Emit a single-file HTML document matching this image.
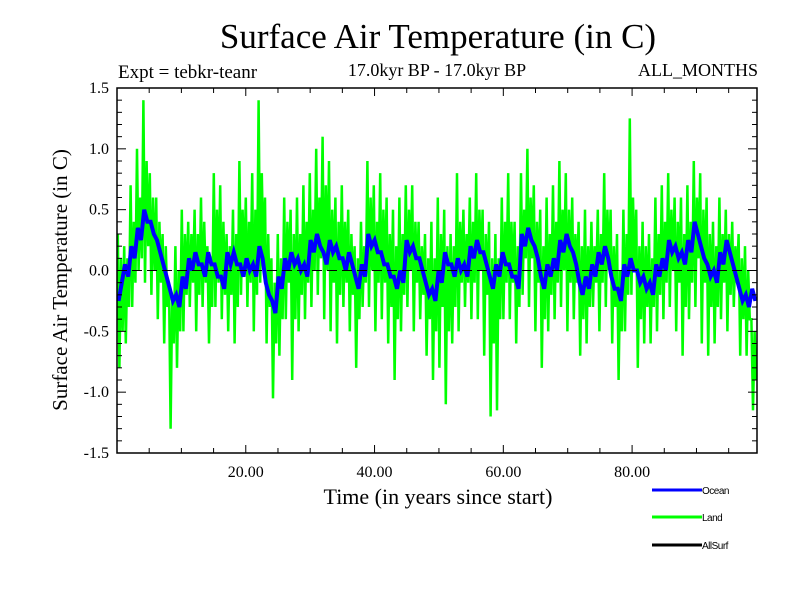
<!DOCTYPE html>
<html><head><meta charset="utf-8"><style>
body{margin:0;background:#fff}
svg text{font-family:"Liberation Serif",serif}
</style></head><body>
<svg width="800" height="600" xmlns="http://www.w3.org/2000/svg">
<rect width="800" height="600" fill="#fff"/>
<text x="438" y="48" font-size="35" text-anchor="middle">Surface Air Temperature (in C)</text>
<text x="118" y="78" font-size="19">Expt = tebkr-teanr</text>
<text x="437" y="76" font-size="18" text-anchor="middle">17.0kyr BP - 17.0kyr BP</text>
<text x="758" y="76" font-size="18" text-anchor="end">ALL_MONTHS</text>
<text transform="translate(67,280) rotate(-90)" font-size="21" text-anchor="middle">Surface Air Temperature (in C)</text>
<text x="438" y="504" font-size="22" text-anchor="middle">Time (in years since start)</text>
<g id="series"></g>
<g id="axes"></g>
<g>
<line x1="652" y1="490" x2="702" y2="490" stroke="#0000ff" stroke-width="3"/>
<text x="702" y="494" font-size="10" style="font-family:'Liberation Sans',sans-serif;letter-spacing:-0.5px">Ocean</text>
<line x1="652" y1="517" x2="702" y2="517" stroke="#00ff00" stroke-width="3"/>
<text x="702" y="521" font-size="10" style="font-family:'Liberation Sans',sans-serif;letter-spacing:-0.5px">Land</text>
<line x1="652" y1="545" x2="702" y2="545" stroke="#000" stroke-width="3"/>
<text x="702" y="549" font-size="10" style="font-family:'Liberation Sans',sans-serif;letter-spacing:-0.5px">AllSurf</text>
</g>
</svg>
<script>
const xTicks=[20,40,60,80];
const xTickLabels=["20.00","40.00","60.00","80.00"];
const yTicks=[-1.5,-1.0,-0.5,0.0,0.5,1.0,1.5];
const yTickLabels=["-1.5","-1.0","-0.5","0.0","0.5","1.0","1.5"];
const land=[
0.3,-0.8,0.1,-0.5, 0.2,-0.6,0.1,-0.3, 0.7,-0.3,0.4,-0.1, 1.0,0.0,0.6,0.1, 1.4,-0.1,0.9,0.2,
0.8,-0.2,0.6,0.0, 0.6,-0.4,0.4,-0.1, 0.3,-0.6,0.2,-0.3, -0.1,-1.3,-0.2,-0.6, 0.2,-0.8,0.0,-0.5,
0.5,-0.5,0.3,-0.2, 0.4,-0.3,0.3,-0.1, 0.5,-0.5,0.3,-0.2, 0.6,-0.3,0.4,-0.1, 0.2,-0.6,0.1,-0.3,
0.8,-0.3,0.5,-0.1, 0.7,-0.4,0.4,-0.2, 0.3,-0.5,0.2,-0.2, 0.5,-0.6,0.3,-0.3, 0.9,-0.2,0.5,0.0,
0.6,-0.3,0.4,-0.1, 0.8,-0.5,0.5,-0.2, 1.4,-0.1,0.8,0.1, 0.6,-0.6,0.3,-0.3, 0.1,-1.05,-0.1,-0.6,
0.3,-0.7,0.1,-0.4, 0.6,-0.4,0.4,-0.1, 0.5,-0.9,0.3,-0.4, 0.6,-0.5,0.3,-0.2, 0.7,-0.4,0.4,-0.1,
0.8,-0.3,0.5,0.0, 1.0,-0.2,0.6,0.1, 1.1,-0.4,0.7,0.0, 0.9,-0.5,0.5,-0.1, 0.6,-0.6,0.4,-0.2,
0.7,-0.3,0.4,-0.1, 0.5,-0.5,0.3,-0.2, 0.2,-0.8,0.1,-0.4, 0.4,-0.3,0.2,-0.1, 0.9,-0.3,0.6,0.0,
0.7,-0.5,0.4,-0.1, 0.8,-0.4,0.5,-0.1, 0.6,-0.6,0.3,-0.3, 0.5,-0.9,0.2,-0.4, 0.6,-0.5,0.3,-0.2,
0.7,-0.3,0.5,0.0, 0.7,-0.5,0.4,-0.1, 0.4,-0.4,0.2,-0.2, 0.3,-0.7,0.1,-0.4, 0.4,-0.9,0.1,-0.5,
0.6,-0.8,0.3,-0.3, 0.5,-1.1,0.2,-0.5, 0.3,-0.6,0.2,-0.3, 0.8,-0.5,0.4,-0.1, 0.5,-0.3,0.3,-0.1,
0.6,-0.4,0.4,-0.1, 0.8,-0.4,0.5,0.0, 0.5,-0.7,0.3,-0.2, 0.4,-1.2,0.1,-0.6, 0.3,-1.15,0.1,-0.4,
0.6,-0.4,0.4,-0.1, 0.8,-0.4,0.4,-0.1, 0.4,-0.6,0.2,-0.3, 0.8,-0.2,0.5,0.1, 1.0,-0.3,0.6,0.1,
0.7,-0.5,0.4,-0.1, 0.5,-0.8,0.2,-0.4, 0.6,-0.5,0.3,-0.2, 0.7,-0.4,0.4,-0.1, 0.9,-0.3,0.5,0.0,
0.8,-0.5,0.5,-0.1, 0.6,-0.4,0.3,-0.1, 0.4,-0.7,0.2,-0.4, 0.5,-0.6,0.2,-0.3, 0.4,-0.3,0.2,-0.1,
0.5,-0.5,0.3,-0.1, 0.8,-0.3,0.5,0.0, 0.5,-0.6,0.2,-0.3, 0.3,-0.9,0.0,-0.5, 0.5,-0.5,0.3,-0.2,
1.25,-0.2,0.6,0.0, 0.5,-0.8,0.2,-0.4, 0.4,-0.6,0.2,-0.3, 0.3,-0.6,0.1,-0.3, 0.6,-0.5,0.3,-0.2,
0.7,-0.4,0.4,-0.1, 0.8,-0.3,0.5,0.0, 0.6,-0.5,0.4,-0.1, 0.6,-0.7,0.3,-0.3, 0.7,-0.4,0.4,-0.1,
0.9,-0.3,0.6,0.1, 0.8,-0.6,0.5,-0.1, 0.6,-0.7,0.3,-0.3, 0.4,-0.6,0.2,-0.3, 0.6,-0.4,0.3,-0.1,
0.5,-0.5,0.3,-0.2, 0.4,-0.3,0.2,-0.1, 0.3,-0.7,0.1,-0.4, 0.2,-0.7,0.0,-0.4, -0.4,-1.15,-0.5,-0.9];
const ocean=[-0.25,-0.1,0.05,-0.05,0.2,0.1,0.35,0.25,0.5,0.4,0.4,0.3,0.25,0.15,0.05,-0.05,-0.15,-0.25,-0.2,-0.3,
-0.05,-0.15,0.1,0.0,0.15,0.05,0.05,-0.05,0.15,0.05,0.05,-0.05,-0.05,-0.15,0.15,0.05,0.15,0.05,0.05,-0.05,
0.1,0.0,0.05,-0.05,0.2,0.1,-0.1,-0.2,-0.25,-0.35,-0.05,-0.15,0.1,0.0,0.15,0.05,0.1,0.0,0.05,-0.05,
0.25,0.15,0.3,0.2,0.15,0.05,0.25,0.15,0.2,0.1,0.1,0.0,0.15,0.05,-0.05,-0.15,0.05,-0.05,0.3,0.2,
0.25,0.15,0.15,0.05,0.05,-0.05,-0.05,-0.15,0.0,-0.1,0.25,0.15,0.2,0.1,0.1,0.0,-0.1,-0.2,-0.15,-0.25,
0.0,-0.1,0.15,0.05,0.05,-0.05,0.1,0.0,0.05,-0.05,0.2,0.1,0.25,0.15,0.15,0.05,-0.05,-0.15,0.05,-0.05,
0.15,0.05,0.05,-0.05,-0.05,-0.15,0.3,0.2,0.35,0.25,0.2,0.1,-0.05,-0.15,0.05,-0.05,0.1,0.0,0.25,0.15,
0.3,0.2,0.15,0.05,-0.1,-0.2,-0.05,-0.15,0.05,-0.05,0.15,0.05,0.2,0.1,-0.05,-0.15,-0.15,-0.25,0.05,-0.05,
0.1,0.0,0.0,-0.1,-0.05,-0.15,-0.1,-0.2,0.05,-0.05,0.1,0.0,0.25,0.15,0.2,0.1,0.15,0.05,0.25,0.15,
0.4,0.3,0.2,0.1,0.05,-0.05,0.0,-0.1,0.15,0.05,0.25,0.15,0.05,-0.05,-0.15,-0.25,-0.2,-0.3,-0.15,-0.25];
const allSurf=ocean.slice();
const L=117,R=757,T=88,B=453,XMAX=99.4;
const xs=v=>L+(v/XMAX)*(R-L);
const ys=v=>B-(v+1.5)/3*(B-T);
const NS="http://www.w3.org/2000/svg";
const mk=(t,a,p)=>{const e=document.createElementNS(NS,t);for(const k in a)e.setAttribute(k,a[k]);p.appendChild(e);return e;};
const sg=document.getElementById('series');
function line(arr,color,w,name){
  const step=XMAX/arr.length;
  const pts=arr.map((v,i)=>xs(i*step+step/2).toFixed(1)+','+ys(v).toFixed(1)).join(' ');
  const p=mk('polyline',{points:pts,fill:'none',stroke:color,'stroke-width':w,'stroke-linejoin':'miter'},sg);
  
  
}
line(land,'#00ff00',2.5,'land-series');
line(allSurf,'#000000',2,'allsurf-series');
line(ocean,'#0000ff',4,'ocean-series');
const zl=mk('line',{x1:L,x2:R,y1:ys(0),y2:ys(0),stroke:'#000','stroke-width':1,'stroke-dasharray':'10,5'},sg);


const ag=document.getElementById('axes');
const fr=mk('rect',{x:L,y:T,width:R-L,height:B-T,fill:'none',stroke:'#000','stroke-width':1.5},ag);


for(let v=5;v<XMAX;v+=5){const maj=v%20===0;const len=maj?8:5;
  mk('line',{x1:xs(v),x2:xs(v),y1:B,y2:B-len,stroke:'#000'},ag);
  mk('line',{x1:xs(v),x2:xs(v),y1:T,y2:T+len,stroke:'#000'},ag);}
for(let k=-14;k<=14;k++){const v=k/10;const maj=k%5===0;const len=maj?9:5;
  mk('line',{x1:L,x2:L+len,y1:ys(v),y2:ys(v),stroke:'#000'},ag);
  mk('line',{x1:R,x2:R-len,y1:ys(v),y2:ys(v),stroke:'#000'},ag);}
xTicks.forEach((v,i)=>{const t=mk('text',{x:xs(v),y:B+24,'font-size':16,'text-anchor':'middle'},ag);t.textContent=xTickLabels[i];
  
  });
yTicks.forEach((v,i)=>{const t=mk('text',{x:L-8,y:ys(v)+5,'font-size':16,'text-anchor':'end'},ag);t.textContent=yTickLabels[i];
  
  });
</script>
</body></html>
